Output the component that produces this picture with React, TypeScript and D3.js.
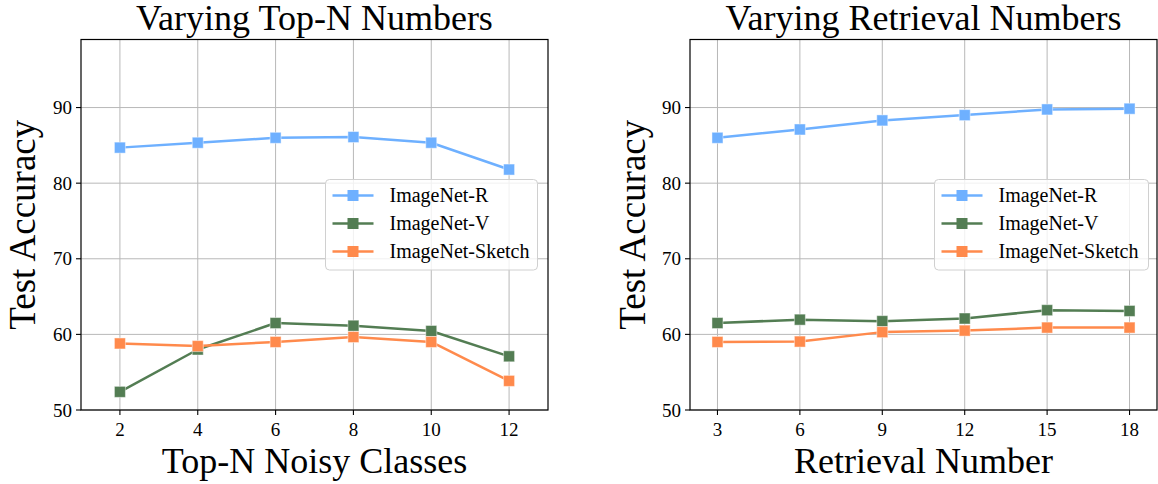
import React from "react";
import * as d3 from "d3";

// Left panel: accuracy vs. number of top-N noisy classes
const topN = [2, 4, 6, 8, 10, 12];
const topNImageNetR = [84.7, 85.35, 86.0, 86.1, 85.35, 81.8];
const topNImageNetV = [52.4, 58.0, 61.5, 61.15, 60.45, 57.1];
const topNImageNetSketch = [58.8, 58.45, 59.0, 59.65, 59.0, 53.85];

// Right panel: accuracy vs. retrieval number
const retrieval = [3, 6, 9, 12, 15, 18];
const retImageNetR = [86.0, 87.1, 88.3, 89.0, 89.75, 89.85];
const retImageNetV = [61.5, 61.95, 61.75, 62.1, 63.2, 63.1];
const retImageNetSketch = [59.0, 59.05, 60.3, 60.5, 60.9, 60.9];

const yTicks = [50, 60, 70, 80, 90];
const seriesNames = ["ImageNet-R", "ImageNet-V", "ImageNet-Sketch"];
const seriesColors = ["#6eb0ff", "#537d53", "#ff8a4c"];

const FONT = "'Liberation Serif', 'Times New Roman', serif";

type PanelProps = {
  left: number;
  right: number;
  top: number;
  bottom: number;
  xs: number[];
  xDomain: [number, number];
  series: number[][];
  title: string;
  xLabel: string;
  legendBox: { x: number; y: number; w: number; h: number };
  yLabelX: number;
};

function Panel(p: PanelProps) {
  const x = d3.scaleLinear().domain(p.xDomain).range([p.left, p.right]);
  const y = d3.scaleLinear().domain([50, 99]).range([p.bottom, p.top]);
  const line = d3
    .line<number>()
    .x((_, i) => x(p.xs[i]))
    .y((v) => y(v));
  const ms = 11;
  const cx = (p.left + p.right) / 2;
  const cy = (p.top + p.bottom) / 2;
  const lb = p.legendBox;
  const rowGap = 28;

  return (
    <g>
      {/* grid */}
      {p.xs.map((t) => (
        <line key={"gx" + t} x1={x(t)} x2={x(t)} y1={p.top} y2={p.bottom} stroke="#b8b8b8" strokeWidth={1} />
      ))}
      {yTicks.map((t) => (
        <line key={"gy" + t} x1={p.left} x2={p.right} y1={y(t)} y2={y(t)} stroke="#b8b8b8" strokeWidth={1} />
      ))}

      {/* series */}
      {p.series.map((vals, si) => (
        <g key={"s" + si}>
          <path d={line(vals) || ""} fill="none" stroke={seriesColors[si]} strokeWidth={2.5} strokeLinejoin="round" />
          {vals.map((v, i) => (
            <rect
              key={i}
              x={x(p.xs[i]) - ms / 2}
              y={y(v) - ms / 2}
              width={ms}
              height={ms}
              fill={seriesColors[si]}
              stroke="#ffffff"
              strokeOpacity={0.45}
              strokeWidth={1}
            />
          ))}
        </g>
      ))}

      {/* frame */}
      <rect x={p.left} y={p.top} width={p.right - p.left} height={p.bottom - p.top} fill="none" stroke="#000" strokeWidth={1.2} />

      {/* ticks */}
      {p.xs.map((t) => (
        <g key={"tx" + t}>
          <line x1={x(t)} x2={x(t)} y1={p.bottom} y2={p.bottom + 5} stroke="#000" strokeWidth={1.1} />
          <text x={x(t)} y={p.bottom + 26} textAnchor="middle" fontFamily={FONT} fontSize={19} fill="#000">
            {t}
          </text>
        </g>
      ))}
      {yTicks.map((t) => (
        <g key={"ty" + t}>
          <line x1={p.left - 5} x2={p.left} y1={y(t)} y2={y(t)} stroke="#000" strokeWidth={1.1} />
          <text x={p.left - 9} y={y(t) + 6.5} textAnchor="end" fontFamily={FONT} fontSize={19} fill="#000">
            {t}
          </text>
        </g>
      ))}

      {/* titles and axis labels */}
      <text x={cx} y={30} textAnchor="middle" fontFamily={FONT} fontSize={36} fill="#000">
        {p.title}
      </text>
      <text x={cx} y={473} textAnchor="middle" fontFamily={FONT} fontSize={36} fill="#000">
        {p.xLabel}
      </text>
      <text
        transform={`translate(${p.yLabelX},${cy}) rotate(-90)`}
        textAnchor="middle"
        fontFamily={FONT}
        fontSize={37}
        fill="#000"
      >
        Test Accuracy
      </text>

      {/* legend */}
      <rect x={lb.x} y={lb.y} width={lb.w} height={lb.h} rx={4} fill="#ffffff" fillOpacity={0.8} stroke="#d0d0d0" strokeWidth={1} />
      {seriesNames.map((name, i) => {
        const ry = lb.y + 16 + i * rowGap;
        return (
          <g key={name}>
            <line x1={lb.x + 7} x2={lb.x + 48} y1={ry} y2={ry} stroke={seriesColors[i]} strokeWidth={2.5} />
            <rect x={lb.x + 27.5 - ms / 2} y={ry - ms / 2} width={ms} height={ms} fill={seriesColors[i]} />
            <text x={lb.x + 64} y={ry + 6.5} fontFamily={FONT} fontSize={20} fill="#000">
              {name}
            </text>
          </g>
        );
      })}
    </g>
  );
}

export default function App() {
  return (
    <svg
      width={1158}
      height={484}
      style={{ position: "absolute", left: 0, top: 0, background: "#fff" }}
    >
      <rect width={1158} height={484} fill="#fff" />
      <Panel
        left={81}
        right={548}
        top={39.5}
        bottom={410}
        xs={topN}
        xDomain={[1, 13]}
        series={[topNImageNetR, topNImageNetV, topNImageNetSketch]}
        title="Varying Top-N Numbers"
        xLabel="Top-N Noisy Classes"
        legendBox={{ x: 325.5, y: 179.5, w: 212, h: 90.5 }}
        yLabelX={35}
      />
      <Panel
        left={690}
        right={1157}
        top={39.5}
        bottom={410}
        xs={retrieval}
        xDomain={[2, 19]}
        series={[retImageNetR, retImageNetV, retImageNetSketch]}
        title="Varying Retrieval Numbers"
        xLabel="Retrieval Number"
        legendBox={{ x: 934.5, y: 179.5, w: 214, h: 90.5 }}
        yLabelX={645}
      />
    </svg>
  );
}
